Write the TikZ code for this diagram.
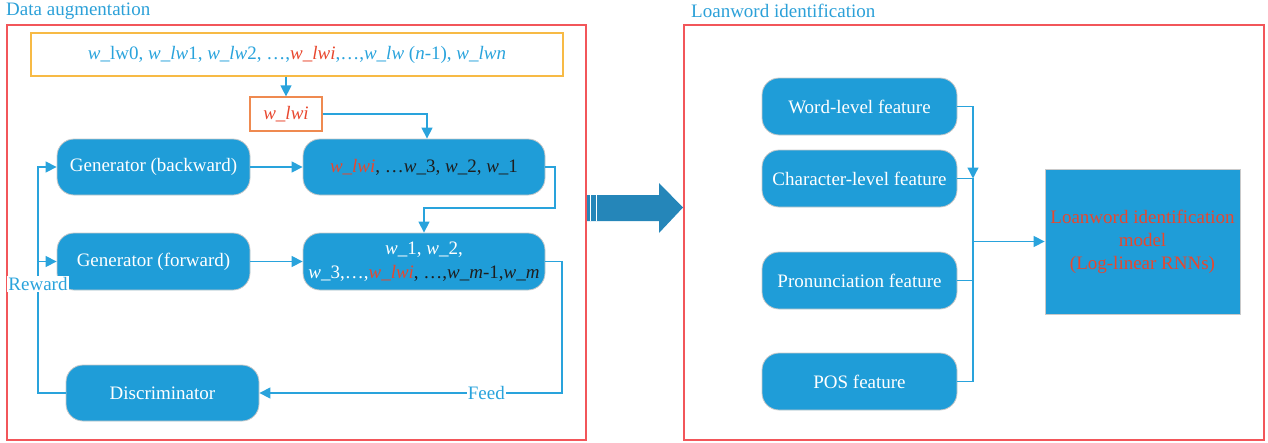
\documentclass[tikz,border=0pt]{standalone}
\usepackage{fontspec}
\setmainfont{Liberation Serif}
\usetikzlibrary{arrows.meta,calc}
\definecolor{nodeblue}{HTML}{1F9DD8}
\definecolor{linkblue}{HTML}{29A3DC}
\definecolor{titleblue}{HTML}{2BA0D8}
\definecolor{nodeborder}{HTML}{C9C9C9}
\definecolor{redbox}{HTML}{F2565A}
\definecolor{yellowbox}{HTML}{F7BA45}
\definecolor{orangebox}{HTML}{EF8A50}
\definecolor{arrowblue}{HTML}{2586B9}
\definecolor{wred}{HTML}{E8472E}
\definecolor{darktext}{HTML}{1E1E1E}
\tikzset{
  box/.style={draw=nodeborder, fill=nodeblue, rounded corners=17pt, text=white,
    minimum width=193pt, minimum height=56pt, align=center, inner sep=2pt,
    line width=0.8pt, font=\fontsize{19}{24}\selectfont},
  conn/.style={draw=linkblue, line width=1.3pt},
  arr/.style={conn, -{Triangle[length=11pt,width=11pt]}},
  frame/.style={draw=redbox, line width=1.3pt},
  title/.style={text=titleblue, anchor=west, inner sep=0pt, font=\fontsize{19}{22}\selectfont},
  lbl/.style={fill=white, text=linkblue, inner sep=1pt, font=\fontsize{19}{22}\selectfont},
}
\begin{document}
\begin{tikzpicture}[x=1pt,y=-1pt]
\useasboundingbox (0,0) rectangle (1268,442);
% frames and titles
\draw[frame] (7,25) rectangle (586,440);
\draw[frame] (684,25) rectangle (1264,440);
\node[title] (t1) at (6,11) {Data augmentation};
\node[title] (t2) at (691,11) {Loanword identification};
% left part
\node[draw=yellowbox, line width=1.2pt, minimum width=532pt, minimum height=43pt, inner sep=0pt,
  text=linkblue, font=\fontsize{19}{22}\selectfont] (top) at (297,54.5)
  {\textit{w}\_lw0, \textit{w\_lw}1, \textit{w\_lw}2, …,\textcolor{wred}{\textit{w\_lwi}},…,\textit{w\_lw} (\textit{n}-1), \textit{w\_lwn}};
\node[draw=orangebox, line width=1.2pt, minimum width=72pt, minimum height=34pt, inner sep=0pt,
  text=wred, font=\fontsize{19}{22}\selectfont] (wlwi) at (286,114) {\textit{w\_lwi}};
\node[box] (genb) at (153.5,167) {Generator (backward)};
\node[box, minimum width=242pt] (outb) at (424,167)
  {\textcolor{wred}{\textit{w\_lwi}}\textcolor{darktext}{, …\textit{w}\_3, \textit{w}\_2, \textit{w}\_1}};
\node[box, minimum height=57pt] (genf) at (153.5,261.5) {Generator (forward)};
\node[box, minimum width=242pt, minimum height=57pt] (outf) at (424,261.5)
  {\textit{w}\_1, \textit{w}\_2,\\\textit{w}\_3,…,\textcolor{wred}{\textit{w\_lwi}}\textcolor{darktext}{, …,\textit{w}\_\textit{m}-1,\textit{w}\_\textit{m}}};
\node[box] (disc) at (162.5,393) {Discriminator};
\coordinate (bend) at (555,208);
\coordinate (feedc) at (562,393);
\coordinate (rew) at (38,393);
\draw[arr] (wlwi.north |- top.south) -- (wlwi.north);
\draw[arr] (wlwi.east) -| ([xshift=3pt]outb.north);
\draw[arr] (genb) -- (outb);
\draw[arr] (outb.east) -| (bend) -| (outf.north);
\draw[arr] (genf) -- (outf);
\draw[arr] (outf.east) -| (feedc) -- (disc.east) node[lbl, pos=0.25] (feed) {Feed};
\draw[arr] (disc.west) -| (rew |- genb) -- (genb.west);
\draw[arr] (rew |- genf) -- (genf.west);
\node[lbl] (reward) at (38,284) {Reward};
% big arrow
\fill[arrowblue] (587,195) -- (659,195) -- (659,183) -- (683,207.5) -- (659,233) -- (659,221) -- (587,221) -- cycle;
\draw[white, line width=1pt] (590.5,195) -- (590.5,221) (596.5,195) -- (596.5,221);
% right part
\node[box, minimum width=195pt, minimum height=57pt] (word) at (859.5,106.5) {Word-level feature};
\node[box, minimum width=195pt, minimum height=57pt] (char) at (859.5,178.5) {Character-level feature};
\node[box, minimum width=195pt, minimum height=57pt] (pron) at (859.5,280.5) {Pronunciation feature};
\node[box, minimum width=195pt, minimum height=57pt] (pos) at (859.5,381.5) {POS feature};
\node[draw=nodeborder, fill=nodeblue, line width=0.8pt, minimum width=195pt, minimum height=145pt,
  inner sep=0pt, align=center, text=wred, font=\fontsize{19}{23}\selectfont] (model) at (1142.5,241.5)
  {Loanword identification\\model\\(Log-linear RNNs)};
\coordinate (j1) at (973,178.5);
\draw[arr] (word.east) -| (j1);
\draw[conn] (char.east) -- (j1) -- (j1 |- pos.east) -- (pos.east);
\draw[conn] (pron.east) -- (pron.east -| j1);
\draw[arr] (j1 |- model.west) -- (model.west);
\end{tikzpicture}
\end{document}
